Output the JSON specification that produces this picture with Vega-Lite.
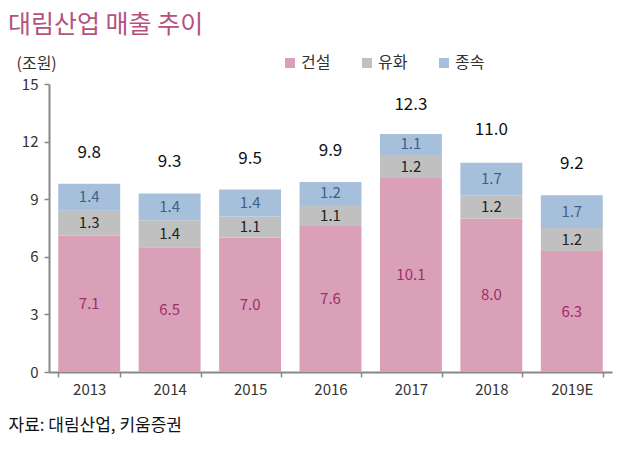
{
  "$schema": "https://vega.github.io/schema/vega-lite/v6.json",
  "width": 563,
  "height": 288,
  "autosize": "none",
  "padding": {"left": 49, "top": 84, "right": 18, "bottom": 77},
  "background": "white",
  "config": {"font": "Noto Sans CJK KR", "view": {"stroke": null}},
  "title": {"text": "대림산업 매출 추이", "anchor": "start", "frame": "group", "fontSize": 25, "fontWeight": "normal", "color": "#B4527F", "dx": -41, "offset": 17},
  "datasets": {
    "segments": [
      {"year": "2013", "cat": "건설", "ord": 1, "value": 7.1},
      {"year": "2013", "cat": "유화", "ord": 2, "value": 1.3},
      {"year": "2013", "cat": "종속", "ord": 3, "value": 1.4},
      {"year": "2014", "cat": "건설", "ord": 1, "value": 6.5},
      {"year": "2014", "cat": "유화", "ord": 2, "value": 1.4},
      {"year": "2014", "cat": "종속", "ord": 3, "value": 1.4},
      {"year": "2015", "cat": "건설", "ord": 1, "value": 7.0},
      {"year": "2015", "cat": "유화", "ord": 2, "value": 1.1},
      {"year": "2015", "cat": "종속", "ord": 3, "value": 1.4},
      {"year": "2016", "cat": "건설", "ord": 1, "value": 7.6},
      {"year": "2016", "cat": "유화", "ord": 2, "value": 1.1},
      {"year": "2016", "cat": "종속", "ord": 3, "value": 1.2},
      {"year": "2017", "cat": "건설", "ord": 1, "value": 10.1},
      {"year": "2017", "cat": "유화", "ord": 2, "value": 1.2},
      {"year": "2017", "cat": "종속", "ord": 3, "value": 1.1},
      {"year": "2018", "cat": "건설", "ord": 1, "value": 8.0},
      {"year": "2018", "cat": "유화", "ord": 2, "value": 1.2},
      {"year": "2018", "cat": "종속", "ord": 3, "value": 1.7},
      {"year": "2019E", "cat": "건설", "ord": 1, "value": 6.3},
      {"year": "2019E", "cat": "유화", "ord": 2, "value": 1.2},
      {"year": "2019E", "cat": "종속", "ord": 3, "value": 1.7}
    ],
    "totals": [
      {"year": "2013", "total": 9.8},
      {"year": "2014", "total": 9.3},
      {"year": "2015", "total": 9.5},
      {"year": "2016", "total": 9.9},
      {"year": "2017", "total": 12.3},
      {"year": "2018", "total": 11.0},
      {"year": "2019E", "total": 9.2}
    ]
  },
  "encoding": {
    "x": {
      "field": "year", "type": "nominal", "sort": null,
      "scale": {"paddingInner": 0.23, "paddingOuter": 0.115},
      "axis": {
        "title": "자료: 대림산업, 키움증권",
        "titleAnchor": "start", "titleAlign": "left", "titleX": -41, "titleY": 53,
        "titleBaseline": "middle", "titleFontSize": 17, "titleFontWeight": "normal", "titleColor": "#111111",
        "labelAngle": 0, "labelFontSize": 15, "labelColor": "#333333", "labelPadding": 5,
        "domainColor": "#888888", "domainWidth": 2,
        "tickColor": "#888888", "tickWidth": 1.5, "tickSize": 5, "tickBand": "extent"
      }
    }
  },
  "layer": [
    {
      "data": {"name": "segments"},
      "mark": {"type": "bar"},
      "encoding": {
        "y": {
          "field": "value", "type": "quantitative", "stack": "zero",
          "scale": {"domain": [0, 15], "nice": false},
          "axis": {
            "values": [0, 3, 6, 9, 12, 15], "grid": false,
            "title": "(조원)", "titleAngle": 0, "titleX": -33, "titleY": -21,
            "titleAlign": "left", "titleBaseline": "middle", "titleFontSize": 16,
            "titleFontWeight": "normal", "titleColor": "#333333",
            "labelFontSize": 15, "labelColor": "#333333", "labelPadding": 6,
            "domainColor": "#888888", "domainWidth": 2,
            "tickColor": "#888888", "tickWidth": 1.5, "tickSize": 5
          }
        },
        "color": {
          "field": "cat", "type": "nominal",
          "scale": {"domain": ["건설", "유화", "종속"], "range": ["#D9A0B8", "#C0C0C0", "#A6C0DB"]},
          "legend": {
            "title": null, "orient": "none", "direction": "horizontal",
            "legendX": 233, "legendY": -29,
            "symbolType": "square", "symbolSize": 100, "symbolStrokeWidth": 0,
            "labelFontSize": 16, "labelColor": "#333333", "labelOffset": 3,
            "columnPadding": 28
          }
        },
        "order": {"field": "ord", "type": "quantitative"}
      }
    },
    {
      "data": {"name": "segments"},
      "mark": {"type": "text", "fontSize": 15},
      "encoding": {
        "y": {"field": "value", "type": "quantitative", "stack": "zero", "bandPosition": 0.5},
        "detail": {"field": "cat", "type": "nominal"},
        "order": {"field": "ord", "type": "quantitative"},
        "text": {"field": "value", "type": "quantitative", "format": ".1f"},
        "color": {
          "field": "cat", "type": "nominal",
          "scale": {"domain": ["건설", "유화", "종속"], "range": ["#9E2F66", "#222222", "#3F5F8F"]},
          "legend": null
        }
      }
    },
    {
      "data": {"name": "totals"},
      "mark": {"type": "text", "fontSize": 17, "dy": -31, "color": "#111111"},
      "encoding": {
        "y": {"field": "total", "type": "quantitative"},
        "text": {"field": "total", "type": "quantitative", "format": ".1f"}
      }
    }
  ],
  "resolve": {"scale": {"color": "independent"}}
}
